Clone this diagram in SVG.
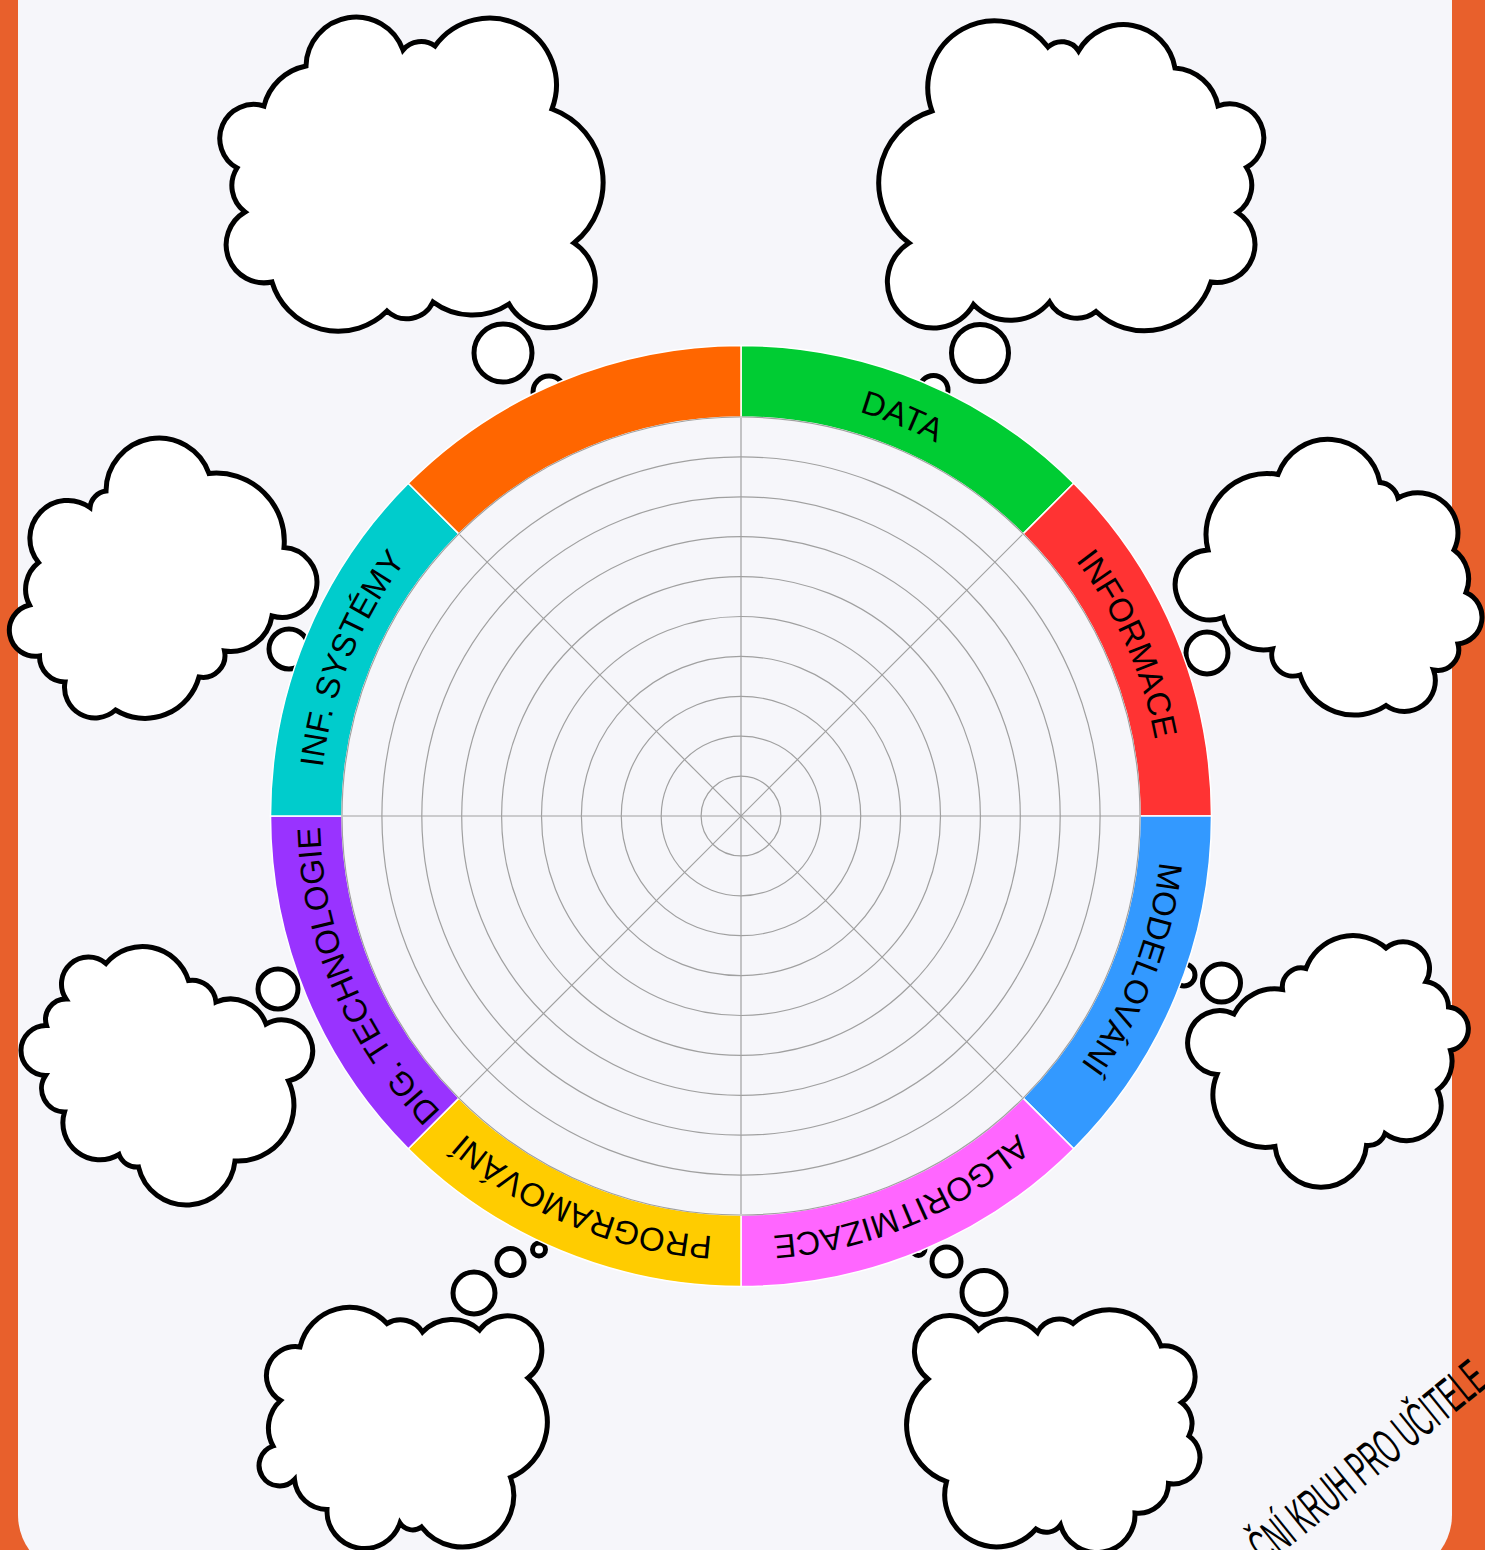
<svg xmlns="http://www.w3.org/2000/svg" width="1485" height="1550" viewBox="0 0 1485 1550">
<defs>
<style>
.cloud{fill:#fff;stroke:#000;stroke-width:5;stroke-linejoin:miter}
.bub{fill:#fff;stroke:#000;stroke-width:5}
.grid{fill:none;stroke:#a0a0a0;stroke-width:1.2}
.seg{stroke:#fff;stroke-width:1.5}
.lbl{font-family:"Liberation Sans",Arial,sans-serif;font-size:33px;fill:#000}
</style>
<path id="lblpath" d="M 741 395 A 421 421 0 1 1 741 1237 A 421 421 0 1 1 741 395"/>
</defs>
<rect x="0" y="0" width="1485" height="1550" fill="#E8602C"/>
<rect x="18" y="-80" width="1434" height="1655" rx="60" ry="60" fill="#F6F6FA"/>

<g id="cloud-top-left">
<path class="cloud" d="M 306 66 A 50 50 0 0 1 403 50 A 24 24 0 0 1 435 46 A 67 67 0 0 1 552 109 A 78 78 0 0 1 574 243 A 46 46 0 1 1 509 304 A 66 66 0 0 1 433 302 A 29 29 0 0 1 387 311 A 69 69 0 0 1 272 282 A 38 38 0 0 1 245 212 A 33 33 0 0 1 237 168 A 34 34 0 0 1 264 106 A 54 54 0 0 1 306 66 Z"/>
<circle class="bub" cx="503" cy="353" r="29"/>
<circle class="bub" cx="549" cy="392" r="16"/>
</g>
<g id="cloud-top-right">
<path class="cloud" d="M 932 111 A 67 67 0 0 1 1048 47 A 20 20 0 0 1 1078.5 51 A 52 52 0 0 1 1175 68 A 47 47 0 0 1 1218 106 A 34 34 0 0 1 1246.5 167.5 A 33 33 0 0 1 1237.5 212.5 A 38 38 0 0 1 1211 282 A 70 70 0 0 1 1096 311.5 A 31 31 0 0 1 1049.5 302 A 51 51 0 0 1 973.5 304.5 A 46 46 0 1 1 909 243 A 75 75 0 0 1 932 111 Z"/>
<circle class="bub" cx="980" cy="353" r="28.5"/>
<circle class="bub" cx="933.5" cy="390" r="14.5"/>
</g>
<g id="cloud-left-upper">
<path class="cloud" d="M 38.5 562.5 A 38 38 0 0 1 90 507.5 A 18.5 18.5 0 0 1 106 491 A 53 53 0 0 1 209 473.5 A 68 68 0 0 1 284 547.5 A 35 35 0 1 1 272 616 A 42 42 0 0 1 224.5 651 A 22 22 0 0 1 199 677 A 56 56 0 0 1 115.5 710 A 30.5 30.5 0 0 1 65 682 A 25.5 25.5 0 0 1 39.5 656 A 26 26 0 0 1 29.5 605 A 34 34 0 0 1 38.5 562.5 Z"/>
<circle class="bub" cx="289" cy="649" r="20"/>
</g>
<g id="cloud-right-upper">
<path class="cloud" d="M 1208 550 A 61 61 0 0 1 1278 474.5 A 53 53 0 0 1 1380 482.5 A 20 20 0 0 1 1398 498 A 40 40 0 0 1 1454 550 A 36 36 0 0 1 1466 592.5 A 27 27 0 0 1 1458 644 A 21 21 0 0 1 1433.5 670 A 31 31 0 0 1 1386 705.5 A 57 57 0 0 1 1300 675 A 21.5 21.5 0 0 1 1272.5 649 A 42 42 0 0 1 1223 617.5 A 35 35 0 1 1 1208 550 Z"/>
<circle class="bub" cx="1207" cy="653" r="21"/>
</g>
<g id="cloud-left-lower">
<path class="cloud" d="M 66 999 A 27 27 0 0 1 106 963.5 A 48 48 0 0 1 188.5 980.5 A 24 24 0 0 1 216 1002 A 37.5 37.5 0 0 1 266 1024 A 31 31 0 1 1 288.5 1081 A 56 56 0 0 1 235 1161 A 49 49 0 0 1 138.5 1167 A 19 19 0 0 1 119 1154.5 A 37 37 0 0 1 64.5 1112 A 23.5 23.5 0 0 1 45.5 1075.5 A 25 25 0 0 1 46.5 1025.5 A 20.5 20.5 0 0 1 66 999 Z"/>
<circle class="bub" cx="278" cy="989" r="20"/>
</g>
<g id="cloud-right-lower">
<path class="cloud" d="M 1234 1014 A 45.5 45.5 0 0 1 1282.5 989.5 A 19 19 0 0 1 1306 968.5 A 50 50 0 0 1 1386 948 A 26.5 26.5 0 0 1 1426 981.5 A 26.5 26.5 0 0 1 1448.5 1007 A 22 22 0 0 1 1450.5 1050.5 A 36 36 0 0 1 1437.5 1090 A 35 35 0 0 1 1385 1133.5 A 17.5 17.5 0 0 1 1366.5 1145.5 A 46 46 0 0 1 1275 1146.5 A 52.5 52.5 0 0 1 1217 1074.5 A 32 32 0 1 1 1234 1014 Z"/>
<circle class="bub" cx="1221.5" cy="983" r="19"/>
<circle class="bub" cx="1184" cy="975" r="11"/>
</g>
<g id="cloud-bottom-left">
<path class="cloud" d="M 300 1347 A 51 51 0 0 1 387 1323.5 A 26 26 0 0 1 422.5 1332 A 41 41 0 0 1 479.5 1330 A 34.5 34.5 0 1 1 528 1378 A 60 60 0 0 1 510.5 1477.5 A 51.5 51.5 0 0 1 421.5 1527 A 15 15 0 0 1 400 1523 A 37.5 37.5 0 0 1 327 1509.5 A 33 33 0 0 1 294.5 1479.5 A 20.5 20.5 0 1 1 273 1446 A 37.5 37.5 0 0 1 280.5 1400.5 A 29 29 0 0 1 300 1347 Z"/>
<circle class="bub" cx="474" cy="1293" r="21"/>
<circle class="bub" cx="510.5" cy="1262" r="13.5"/>
<circle class="bub" cx="539" cy="1249.5" r="6.5"/>
</g>
<g id="cloud-bottom-right">
<path class="cloud" d="M 978.5 1330 A 42 42 0 0 1 1037.5 1332.5 A 24 24 0 0 1 1073 1323.5 A 55 55 0 0 1 1161 1346 A 31 31 0 0 1 1181.5 1402.5 A 26.5 26.5 0 0 1 1189 1436 A 26.5 26.5 0 0 1 1168.5 1483.5 A 30 30 0 0 1 1135 1513 A 38 38 0 0 1 1060.5 1525 A 17.5 17.5 0 0 1 1036 1529 A 52 52 0 0 1 946.5 1481.5 A 60 60 0 0 1 928 1379 A 35.5 35.5 0 1 1 978.5 1330 Z"/>
<circle class="bub" cx="984" cy="1292.5" r="22"/>
<circle class="bub" cx="946.5" cy="1261.5" r="14.5"/>
<circle class="bub" cx="918.5" cy="1249" r="6.5"/>
</g>

<g id="grid">
<circle class="grid" cx="741" cy="816" r="39.9"/>
<circle class="grid" cx="741" cy="816" r="79.8"/>
<circle class="grid" cx="741" cy="816" r="119.7"/>
<circle class="grid" cx="741" cy="816" r="159.6"/>
<circle class="grid" cx="741" cy="816" r="199.5"/>
<circle class="grid" cx="741" cy="816" r="239.4"/>
<circle class="grid" cx="741" cy="816" r="279.3"/>
<circle class="grid" cx="741" cy="816" r="319.2"/>
<circle class="grid" cx="741" cy="816" r="359.1"/>
<line class="grid" x1="741" y1="417" x2="741" y2="1215"/>
<line class="grid" x1="342" y1="816" x2="1140" y2="816"/>
<line class="grid" x1="458.9" y1="533.9" x2="1023.1" y2="1098.1"/>
<line class="grid" x1="1023.1" y1="533.9" x2="458.9" y2="1098.1"/>
</g>

<g id="ring">
<path class="seg" fill="#00CC33" d="M 741 345.5 A 470.5 470.5 0 0 1 1073.7 483.3 L 1023.1 533.9 A 399 399 0 0 0 741 417 Z"/>
<path class="seg" fill="#FF3333" d="M 1073.7 483.3 A 470.5 470.5 0 0 1 1211.5 816 L 1140 816 A 399 399 0 0 0 1023.1 533.9 Z"/>
<path class="seg" fill="#3399FF" d="M 1211.5 816 A 470.5 470.5 0 0 1 1073.7 1148.7 L 1023.1 1098.1 A 399 399 0 0 0 1140 816 Z"/>
<path class="seg" fill="#FF66FF" d="M 1073.7 1148.7 A 470.5 470.5 0 0 1 741 1286.5 L 741 1215 A 399 399 0 0 0 1023.1 1098.1 Z"/>
<path class="seg" fill="#FFCC00" d="M 741 1286.5 A 470.5 470.5 0 0 1 408.3 1148.7 L 458.9 1098.1 A 399 399 0 0 0 741 1215 Z"/>
<path class="seg" fill="#9933FF" d="M 408.3 1148.7 A 470.5 470.5 0 0 1 270.5 816 L 342 816 A 399 399 0 0 0 458.9 1098.1 Z"/>
<path class="seg" fill="#00CCCC" d="M 270.5 816 A 470.5 470.5 0 0 1 408.3 483.3 L 458.9 533.9 A 399 399 0 0 0 342 816 Z"/>
<path class="seg" fill="#FF6600" d="M 408.3 483.3 A 470.5 470.5 0 0 1 741 345.5 L 741 417 A 399 399 0 0 0 458.9 533.9 Z"/>
<circle class="grid" cx="741" cy="816" r="399"/>
</g>

<g id="labels" class="lbl" text-anchor="middle">
<text><textPath href="#lblpath" startOffset="6.1%">DATA</textPath></text>
<text><textPath href="#lblpath" startOffset="18.35%">INFORMACE</textPath></text>
<text><textPath href="#lblpath" startOffset="30.9%">MODELOVÁNÍ</textPath></text>
<text><textPath href="#lblpath" startOffset="43.7%">ALGORITMIZACE</textPath></text>
<text><textPath href="#lblpath" startOffset="56.25%">PROGRAMOVÁNÍ</textPath></text>
<text><textPath href="#lblpath" startOffset="68.6%">DIG. TECHNOLOGIE</textPath></text>
<text><textPath href="#lblpath" startOffset="81.1%">INF. SYSTÉMY</textPath></text>
</g>

<text id="footer" transform="translate(1266,1566) rotate(-39)" font-family="'Liberation Sans',Arial,sans-serif" font-size="50" fill="#000" textLength="289" lengthAdjust="spacingAndGlyphs">ČNÍ KRUH PRO UČITELE</text>
</svg>
